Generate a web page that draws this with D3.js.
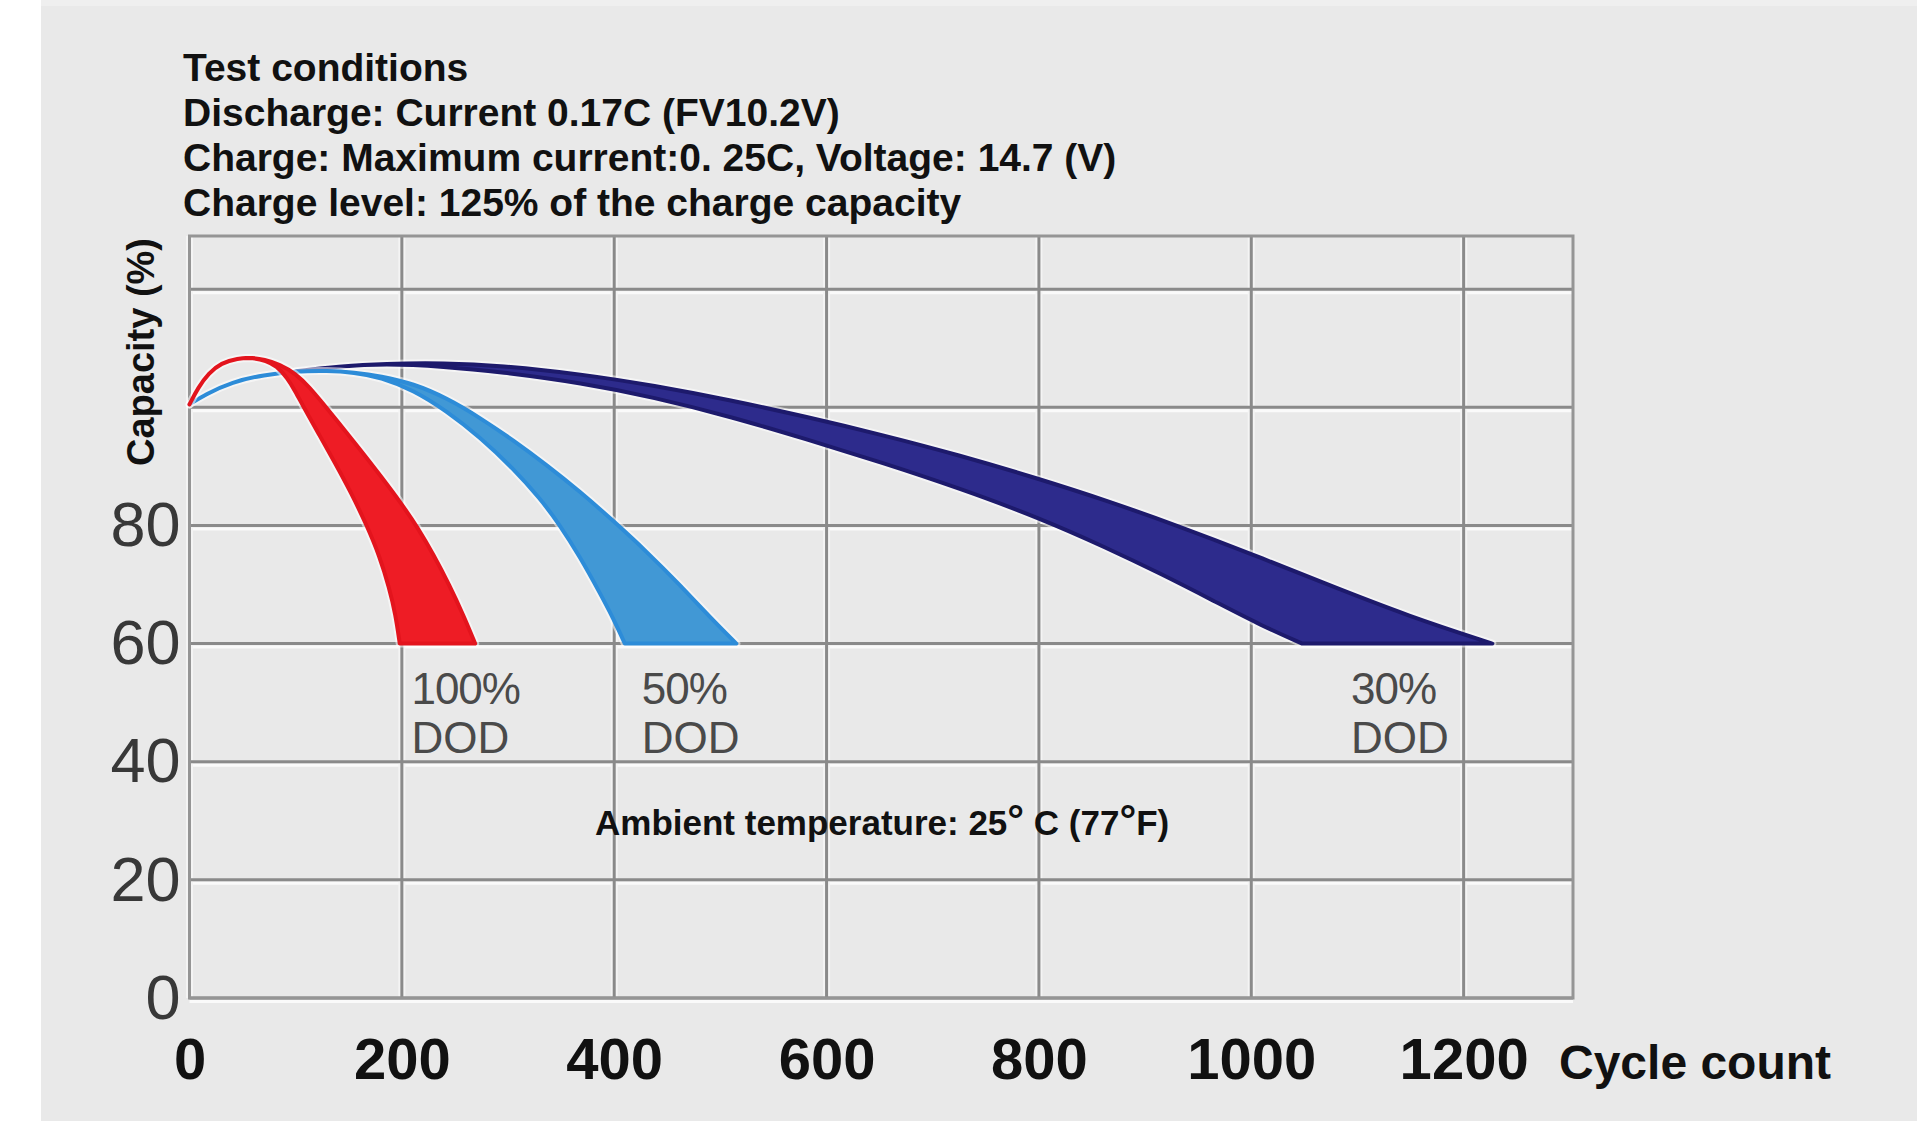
<!DOCTYPE html>
<html lang="en">
<head>
<meta charset="UTF-8">
<title>Cycle life vs depth of discharge</title>
<script src="https://cdn.jsdelivr.net/npm/d3@7"></script>
<style>
  html, body { margin: 0; padding: 0; background: #e9e9e9; }
  svg { display: block; }
  text { font-family: "Liberation Sans", Arial, Helvetica, sans-serif; }
</style>
</head>
<body>
<svg id="chart" width="1917" height="1121"></svg>
<script>
// ---- data ----
const xTicks = [0, 200, 400, 600, 800, 1000, 1200];
const yTicks = [0, 20, 40, 60, 80];
const yGrid = [0, 20, 40, 60, 80, 100, 120];

const conditions = [
  "Test conditions",
  "Discharge: Current 0.17C (FV10.2V)",
  "Charge: Maximum current:0. 25C, Voltage: 14.7 (V)",
  "Charge level: 125% of the charge capacity"
];

const dodNames = ["100%", "50%", "30%"];
const dodLabelCycles = [209, 426, 1094];

// [cycle count, capacity %]
// 100% DOD
const redRise = [[0, 100.5], [8, 103.3], [18, 105.8], [30, 107.5], [45, 108.3], [60, 108.4]];
const redOuter = [[70, 108.1], [85, 107.3], [100, 105.7], [113, 103.4], [125, 100.8], [140, 97.5],
  [160, 93], [180, 88.4], [200, 83.6], [215, 79.6], [230, 75], [245, 69.8], [258, 64.8], [269, 60]];
const redInner = [[72, 107.9], [82, 107], [92, 105], [100, 102.6], [107, 100.2], [122, 95.4],
  [137, 90.6], [152, 85.6], [167, 80], [179, 74.8], [188, 69.5], [194, 65], [198, 60]];

// 50% DOD
const blueRise = [[0, 100.5], [15, 102.2], [40, 104.3], [70, 105.5], [100, 106.1], [130, 106.2], [155, 105.9]];
const blueOuter = [[180, 105.3], [211, 104], [242, 101.6], [274, 98.2], [305, 94.4], [336, 90.3],
  [368, 85.7], [399, 80.8], [431, 75.5], [462, 69.9], [490, 64.5], [515, 60]];
const blueInner = [[180, 105.1], [211, 102.9], [242, 99.4], [274, 94.9], [305, 89.6], [330, 84.6],
  [348, 80.3], [368, 74.6], [387, 68.4], [399, 64.3], [410, 60]];

// 30% DOD
const navyRise = [[100, 106.1], [140, 106.9], [184, 107.4]];
const navyOuter = [[240, 107.5], [292, 107.1], [370, 105.6], [437, 103.7], [510, 101.2], [581, 98.4],
  [653, 95.3], [725, 91.9], [800, 87.9], [864, 84.2], [930, 80], [1000, 75.2], [1066, 70.4],
  [1150, 64.5], [1227, 60]];
const navyInner = [[240, 106.9], [292, 106], [370, 104.1], [437, 101.7], [510, 98.4], [581, 94.6],
  [653, 90.6], [725, 86.3], [800, 81.3], [864, 76.2], [915, 71.8], [965, 67.2], [1010, 63],
  [1048, 60]];

// ---- chart ----
const svg = d3.select("#chart");
const width = 1917, height = 1121;

const x = d3.scaleLinear().domain([0, 1303]).range([189.5, 1573]);
const y = d3.scaleLinear().domain([0, 129]).range([998, 236]);

// page background
svg.append("rect").attr("width", width).attr("height", height).attr("fill", "#e9e9e9");
svg.append("rect").attr("width", 41).attr("height", height).attr("fill", "#ffffff");
svg.append("rect").attr("x", 41).attr("width", width - 41).attr("height", 6).attr("fill", "#efefef");

// grid
const grid = svg.append("g");
grid.selectAll(".hl").data(yGrid).join("line")
  .attr("x1", x(0)).attr("x2", x(1303))
  .attr("y1", d => y(d) + 3.5).attr("y2", d => y(d) + 3.5)
  .attr("stroke", "#fafafa").attr("stroke-width", 3);
grid.selectAll(".vl").data(xTicks).join("line")
  .attr("x1", d => x(d)).attr("x2", d => x(d))
  .attr("y1", y(129)).attr("y2", y(0))
  .attr("stroke", "#f4f4f4").attr("stroke-width", 7);
grid.selectAll(".v").data(xTicks).join("line")
  .attr("x1", d => x(d)).attr("x2", d => x(d))
  .attr("y1", y(129)).attr("y2", y(0))
  .attr("stroke", "#8a8a8a").attr("stroke-width", 3);
grid.selectAll(".h").data(yGrid).join("line")
  .attr("x1", x(0)).attr("x2", x(1303))
  .attr("y1", d => y(d)).attr("y2", d => y(d))
  .attr("stroke", "#8a8a8a").attr("stroke-width", 3);
grid.append("rect")
  .attr("x", x(0)).attr("y", y(129))
  .attr("width", x(1303) - x(0)).attr("height", y(0) - y(129))
  .attr("fill", "none").attr("stroke", "#959595").attr("stroke-width", 3);

// bands
const line = d3.line()
  .x(d => x(d[0])).y(d => y(d[1]))
  .curve(d3.curveBasis);

function bandPath(rise, outer, inner) {
  const top = line(rise.concat(outer));
  const bottom = line(rise.concat(inner).reverse());
  return top + bottom.replace(/^M/, "L") + "Z";
}

const bands = [
  { rise: navyRise, outer: navyOuter, inner: navyInner, fill: "#2d2b8c", edge: "#1d1a6c" },
  { rise: blueRise, outer: blueOuter, inner: blueInner, fill: "#4198d5", edge: "#2d8cd8" },
  { rise: redRise, outer: redOuter, inner: redInner, fill: "#ee1c25", edge: "#e3141d" }
];

const bandG = svg.append("g");
bands.forEach(b => {
  const d = bandPath(b.rise, b.outer, b.inner);
  bandG.append("path").attr("d", d)
    .attr("fill", "none").attr("stroke", "#ffffff")
    .attr("stroke-opacity", 0.55).attr("stroke-width", 8)
    .attr("stroke-linejoin", "round");
  bandG.append("path").attr("d", d)
    .attr("fill", b.fill).attr("stroke", b.edge)
    .attr("stroke-width", 4).attr("stroke-linejoin", "round");
});

// axes
const yAxis = svg.append("g")
  .attr("transform", `translate(${x(0)},0)`)
  .call(d3.axisLeft(y).tickValues(yTicks).tickSize(0).tickPadding(9));
yAxis.select(".domain").remove();
yAxis.selectAll("text")
  .style("font-family", "'Liberation Sans', Arial, sans-serif")
  .attr("font-size", 63).attr("fill", "#383838");

const xAxis = svg.append("g")
  .attr("transform", `translate(0,${y(0)})`)
  .call(d3.axisBottom(x).tickValues(xTicks).tickFormat(d3.format("d")).tickSize(0).tickPadding(40));
xAxis.select(".domain").remove();
xAxis.selectAll("text")
  .style("font-family", "'Liberation Sans', Arial, sans-serif")
  .attr("font-size", 58).attr("font-weight", "bold").attr("fill", "#111");

svg.append("text")
  .attr("x", 1559).attr("y", 1079)
  .attr("font-size", 48).attr("font-weight", "bold").attr("fill", "#111")
  .text("Cycle count");

svg.append("text")
  .attr("transform", "translate(154,352) rotate(-90)")
  .attr("text-anchor", "middle")
  .attr("font-size", 38).attr("font-weight", "bold").attr("fill", "#111")
  .text("Capacity (%)");

// test conditions
svg.append("g").selectAll("text").data(conditions).join("text")
  .attr("x", 183).attr("y", (d, i) => 81 + i * 45)
  .attr("font-size", 39).attr("font-weight", "bold").attr("fill", "#111")
  .text(d => d);

// DOD labels (two lines each)
const dodG = svg.append("g").attr("fill", "#4a4a4a").attr("font-size", 44);
dodG.selectAll(".pct").data(dodNames).join("text")
  .attr("x", (d, i) => x(dodLabelCycles[i]))
  .attr("y", y(60) + 60)
  .attr("letter-spacing", -1)
  .text(d => d);
dodG.selectAll(".dod").data(dodNames).join("text")
  .attr("x", (d, i) => x(dodLabelCycles[i]))
  .attr("y", y(60) + 109)
  .text("DOD");

// ambient temperature
const amb = svg.append("text")
  .attr("x", 595).attr("y", 835)
  .attr("font-size", 35).attr("font-weight", "bold").attr("fill", "#111");
amb.append("tspan").text("Ambient temperature: 25");
amb.append("tspan").attr("font-size", 42).text("°");
amb.append("tspan").text(" C (77");
amb.append("tspan").attr("font-size", 42).text("°");
amb.append("tspan").text("F)");
</script>
</body>
</html>
